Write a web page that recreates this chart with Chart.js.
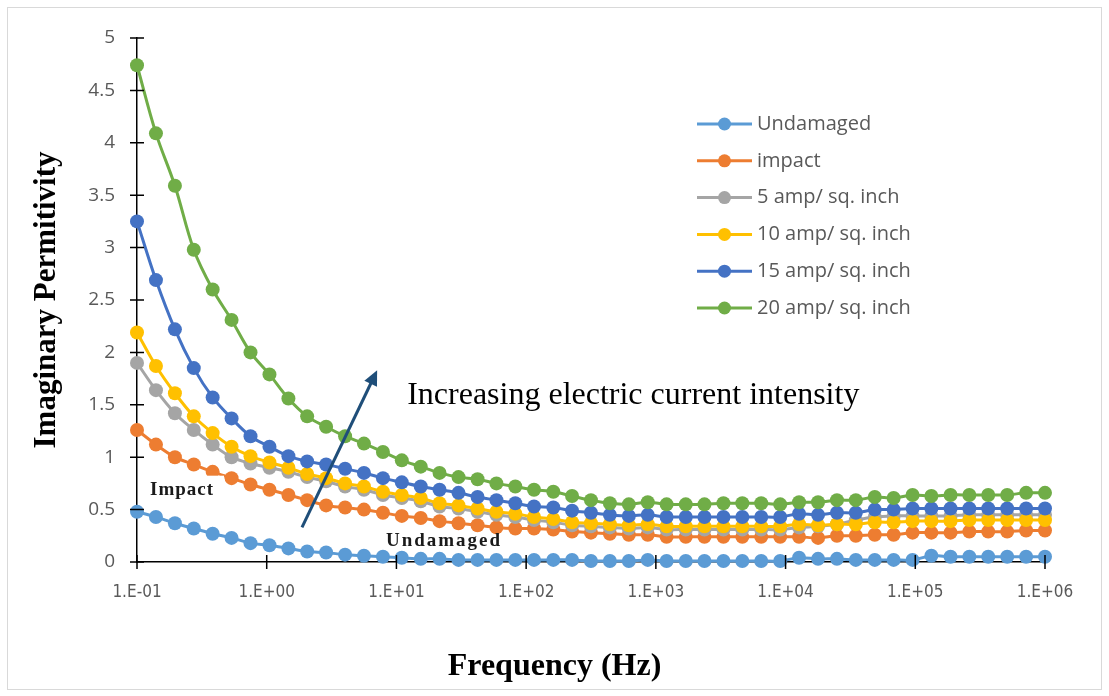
<!DOCTYPE html>
<html>
<head>
<meta charset="utf-8">
<title>Imaginary permittivity vs frequency</title>
<script src="https://cdn.jsdelivr.net/npm/chart.js@4.4.1/dist/chart.umd.min.js"></script>
<style>
  html, body { margin: 0; padding: 0; background: #fff; }
  #wrap { position: relative; width: 1109px; height: 696px; overflow: hidden; }
  #chart { position: absolute; left: 0; top: 0; }
  #frame { position: absolute; left: 7px; top: 7px; width: 1093px; height: 681px; border: 1px solid #d9d9d9; pointer-events: none; }
</style>
</head>
<body>
<div id="wrap">
  <canvas id="chart" width="1109" height="696"></canvas>
  <div id="frame"></div>
</div>
<script>
// Sweep frequencies (Hz), 49 log-spaced points from 0.1 Hz to 1 MHz
const freqHz = [
  0.1, 0.14, 0.196, 0.274, 0.383, 0.536, 0.75, 1.05, 1.47, 2.05,
  2.87, 4.02, 5.62, 7.87, 11.0, 15.4, 21.5, 30.1, 42.2, 59.0,
  82.5, 115, 162, 226, 316, 442, 619, 866, 1210, 1700,
  2370, 3320, 4640, 6490, 9090, 12700, 17800, 24900, 34800, 48700,
  68100, 95300, 133000, 187000, 261000, 365000, 511000, 715000, 1000000
];

const undamaged = [
  0.48, 0.43, 0.37, 0.32, 0.27, 0.23, 0.18, 0.16, 0.13, 0.10,
  0.09, 0.07, 0.06, 0.05, 0.04, 0.03, 0.03, 0.02, 0.02, 0.02,
  0.02, 0.02, 0.02, 0.02, 0.01, 0.01, 0.01, 0.02, 0.01, 0.01,
  0.01, 0.01, 0.01, 0.01, 0.01, 0.04, 0.03, 0.03, 0.02, 0.02,
  0.02, 0.02, 0.06, 0.05, 0.05, 0.05, 0.05, 0.05, 0.05
];
const impact = [
  1.26, 1.12, 1.00, 0.93, 0.86, 0.80, 0.74, 0.69, 0.64, 0.59,
  0.54, 0.52, 0.50, 0.47, 0.44, 0.42, 0.39, 0.37, 0.35, 0.33,
  0.32, 0.32, 0.31, 0.29, 0.28, 0.27, 0.26, 0.26, 0.24, 0.24,
  0.24, 0.24, 0.24, 0.24, 0.24, 0.24, 0.23, 0.25, 0.25, 0.26,
  0.26, 0.28, 0.28, 0.28, 0.29, 0.29, 0.29, 0.30, 0.30
];
const amp5 = [
  1.90, 1.64, 1.42, 1.26, 1.12, 1.00, 0.94, 0.90, 0.86, 0.81,
  0.77, 0.72, 0.69, 0.64, 0.61, 0.58, 0.53, 0.51, 0.48, 0.45,
  0.43, 0.40, 0.38, 0.35, 0.34, 0.33, 0.32, 0.33, 0.31, 0.31,
  0.31, 0.31, 0.31, 0.31, 0.31, 0.33, 0.34, 0.36, 0.40, 0.43,
  0.44, 0.44, 0.44, 0.44, 0.45, 0.45, 0.45, 0.45, 0.45
];
const amp10 = [
  2.19, 1.87, 1.61, 1.39, 1.23, 1.10, 1.01, 0.95, 0.90, 0.84,
  0.80, 0.75, 0.72, 0.67, 0.64, 0.61, 0.56, 0.54, 0.51, 0.48,
  0.46, 0.43, 0.41, 0.38, 0.37, 0.36, 0.35, 0.36, 0.34, 0.34,
  0.34, 0.34, 0.34, 0.34, 0.34, 0.36, 0.35, 0.36, 0.36, 0.38,
  0.38, 0.39, 0.39, 0.39, 0.40, 0.40, 0.40, 0.40, 0.40
];
const amp15 = [
  3.25, 2.69, 2.22, 1.85, 1.57, 1.37, 1.20, 1.10, 1.01, 0.96,
  0.93, 0.89, 0.85, 0.80, 0.76, 0.72, 0.69, 0.66, 0.62, 0.59,
  0.56, 0.53, 0.52, 0.49, 0.47, 0.45, 0.44, 0.45, 0.43, 0.43,
  0.43, 0.43, 0.43, 0.43, 0.43, 0.46, 0.45, 0.47, 0.47, 0.50,
  0.50, 0.51, 0.51, 0.51, 0.51, 0.51, 0.51, 0.51, 0.51
];
const amp20 = [
  4.74, 4.09, 3.59, 2.98, 2.60, 2.31, 2.00, 1.79, 1.56, 1.39,
  1.29, 1.20, 1.13, 1.05, 0.97, 0.91, 0.85, 0.81, 0.79, 0.75,
  0.72, 0.69, 0.67, 0.63, 0.59, 0.56, 0.55, 0.57, 0.55, 0.55,
  0.55, 0.56, 0.56, 0.56, 0.55, 0.57, 0.57, 0.59, 0.59, 0.62,
  0.61, 0.64, 0.63, 0.64, 0.64, 0.64, 0.64, 0.66, 0.66
];

const seriesLabels = ['Undamaged', 'impact', '5 amp/ sq. inch', '10 amp/ sq. inch', '15 amp/ sq. inch', '20 amp/ sq. inch'];
const seriesValues = [undamaged, impact, amp5, amp10, amp15, amp20];
const seriesColors = ['#5B9BD5', '#ED7D31', '#A5A5A5', '#FFC000', '#4472C4', '#70AD47'];

// x axis shows one tick per decade, 1.E-01 .. 1.E+06
const xTickExponents = [-1, 0, 1, 2, 3, 4, 5, 6];

const serif = '"Liberation Serif", "Times New Roman", serif';

function sciLabel(value) {
    const e = Math.round(Math.log10(value));
    const sign = e < 0 ? '-' : '+';
    return `1.E${sign}${String(Math.abs(e)).padStart(2, '0')}`;
}

// Excel-style tick marks that cross the axis line
const crossTicks = {
    id: 'crossTicks',
    afterDraw(chart) {
        const { ctx, chartArea, scales } = chart;
        ctx.save();
        ctx.strokeStyle = '#000';
        ctx.lineWidth = 1.5;
        ctx.beginPath();
        scales.y.ticks.forEach(t => {
            const y = scales.y.getPixelForValue(t.value);
            ctx.moveTo(chartArea.left - 7, y);
            ctx.lineTo(chartArea.left + 7, y);
        });
        scales.x.ticks.forEach(t => {
            const x = scales.x.getPixelForValue(t.value);
            ctx.moveTo(x, chartArea.bottom - 7);
            ctx.lineTo(x, chartArea.bottom + 7);
        });
        ctx.stroke();
        ctx.restore();
    }
};

// Text labels and the trend arrow placed in data space
const notes = {
    id: 'notes',
    afterDatasetsDraw(chart) {
        const { ctx, scales } = chart;
        const px = (f, v) => [scales.x.getPixelForValue(f), scales.y.getPixelForValue(v)];
        ctx.save();

        // arrow
        const [x0, y0] = px(1.87, 0.33);
        const [x1, y1] = px(7.1, 1.83);
        const ang = Math.atan2(y1 - y0, x1 - x0);
        ctx.strokeStyle = '#1F4E79';
        ctx.fillStyle = '#1F4E79';
        ctx.lineWidth = 3;
        ctx.beginPath();
        ctx.moveTo(x0, y0);
        ctx.lineTo(x1 - 10 * Math.cos(ang), y1 - 10 * Math.sin(ang));
        ctx.stroke();
        ctx.beginPath();
        ctx.moveTo(x1, y1);
        ctx.lineTo(x1 - 15 * Math.cos(ang) + 7 * Math.sin(ang), y1 - 15 * Math.sin(ang) - 7 * Math.cos(ang));
        ctx.lineTo(x1 - 15 * Math.cos(ang) - 7 * Math.sin(ang), y1 - 15 * Math.sin(ang) + 7 * Math.cos(ang));
        ctx.closePath();
        ctx.fill();

        // "Impact" label sits in a white box over the impact curve
        const [ix, iy] = px(0.126, 0.69);
        ctx.fillStyle = '#fff';
        ctx.fillRect(ix - 5, iy - 14, 79, 28);
        ctx.fillStyle = '#1a1a1a';
        ctx.font = `bold 19px ${serif}`;
        ctx.letterSpacing = '1px';
        ctx.textBaseline = 'middle';
        ctx.textAlign = 'left';
        ctx.fillText('Impact', ix, iy);

        const [ux, uy] = px(8.3, 0.20);
        ctx.letterSpacing = '2px';
        ctx.fillText('Undamaged', ux, uy);

        const [tx, ty] = px(12.1, 1.59);
        ctx.letterSpacing = '0px';
        ctx.font = `32px ${serif}`;
        ctx.fillStyle = '#000';
        ctx.fillText('Increasing electric current intensity', tx, ty);
        ctx.restore();
    }
};

// Legend column inside the plot, and the x title centred on the page
const sideLegend = {
    id: 'sideLegend',
    afterDraw(chart) {
        const { ctx, width } = chart;
        ctx.save();
        ctx.font = '20px "Open Sans", sans-serif';
        ctx.textBaseline = 'middle';
        ctx.textAlign = 'left';
        chart.data.datasets.forEach((ds, i) => {
            const y = 124 + i * 36.8;
            ctx.strokeStyle = ds.borderColor;
            ctx.lineWidth = 3;
            ctx.beginPath();
            ctx.moveTo(697, y);
            ctx.lineTo(752, y);
            ctx.stroke();
            ctx.fillStyle = ds.borderColor;
            ctx.beginPath();
            ctx.arc(724.5, y, 6.5, 0, Math.PI * 2);
            ctx.fill();
            ctx.fillStyle = '#595959';
            ctx.fillText(ds.label, 757, y);
        });

        ctx.font = `bold 32px ${serif}`;
        ctx.fillStyle = '#000';
        ctx.textAlign = 'center';
        ctx.fillText('Frequency (Hz)', width / 2, 667);
        ctx.restore();
    }
};

const datasets = seriesLabels.map((label, i) => ({
    label: label,
    data: seriesValues[i].map((v, k) => ({ x: freqHz[k], y: v })),
    borderColor: seriesColors[i],
    backgroundColor: seriesColors[i],
    borderWidth: 3,
    pointRadius: 7,
    pointBorderWidth: 0,
    pointBackgroundColor: seriesColors[i],
    tension: 0.35,
    clip: false,
    order: seriesLabels.length - i
}));

const chart = new Chart(document.getElementById('chart'), {
    type: 'line',
    data: { datasets },
    plugins: [crossTicks, notes, sideLegend],
    options: {
        responsive: false,
        animation: false,
        layout: { padding: { top: 38, right: 64, left: 0, bottom: 0 } },
        plugins: {
            legend: { display: false },
            tooltip: { enabled: false }
        },
        scales: {
            x: {
                type: 'logarithmic',
                min: 0.1,
                max: 1000000,
                afterBuildTicks(scale) {
                    scale.ticks = xTickExponents.map(e => ({ value: Math.pow(10, e) }));
                },
                afterFit(scale) { scale.height = 134; },
                grid: { display: false, drawTicks: false },
                border: { display: true, color: '#000', width: 1.5 },
                ticks: {
                    autoSkip: false,
                    maxRotation: 0,
                    padding: 20,
                    color: '#595959',
                    font: { family: '"Liberation Sans Narrow", "DejaVu Sans Condensed", sans-serif', size: 17 },
                    callback: (value) => sciLabel(value)
                }
            },
            y: {
                min: 0,
                max: 5,
                afterFit(scale) { scale.width = 137; },
                grid: { display: false, drawTicks: false },
                border: { display: true, color: '#000', width: 1.5 },
                ticks: {
                    stepSize: 0.5,
                    padding: 22,
                    color: '#595959',
                    font: { family: '"Open Sans", sans-serif', size: 19 },
                    callback: (value) => String(Math.round(value * 10) / 10)
                },
                title: {
                    display: true,
                    text: 'Imaginary Permitivity',
                    color: '#000',
                    font: { family: serif, size: 31, weight: 'bold' },
                    padding: { top: 28, bottom: 0 }
                }
            }
        }
    }
});
</script>
</body>
</html>
